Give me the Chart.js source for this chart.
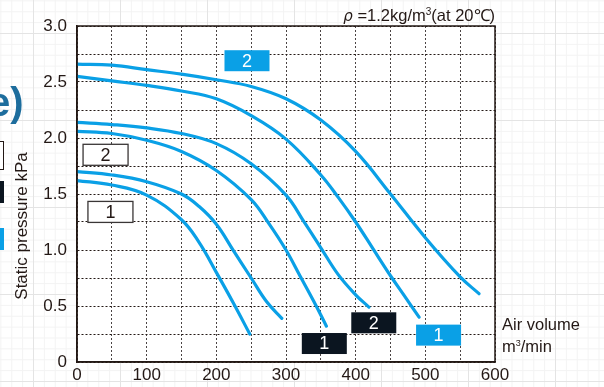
<!DOCTYPE html>
<html>
<head>
<meta charset="utf-8">
<script src="https://cdn.jsdelivr.net/npm/chart.js@4/dist/chart.umd.min.js"></script>
<style>
html, body { margin: 0; padding: 0; }
body {
  width: 604px; height: 387px; overflow: hidden; background-color: #fff;
  background-image:
    linear-gradient(#e4e4e4 1px, transparent 1px),
    linear-gradient(90deg, #e4e4e4 1px, transparent 1px),
    linear-gradient(#f3f3f3 1px, transparent 1px),
    linear-gradient(90deg, #f3f3f3 1px, transparent 1px);
  background-size: 87px 87px, 87px 87px, 10.875px 10.875px, 10.875px 10.875px;
  background-position: 33px 33px;
  font-family: "Liberation Sans", Arial, sans-serif;
  color: #231815;
}
#wrap { position: relative; width: 604px; height: 387px; }
canvas { position: absolute; left: 0; top: 0; }
.txt { position: absolute; white-space: nowrap; }
#density { right: 109px; top: 3px; font-size: 16.5px; }
#density i { font-family: "DejaVu Sans", sans-serif; font-size: 15px; }
#density sup { font-size: 10px; vertical-align: 6px; }
#ytitle { left: 22px; top: 226px; font-size: 17px; transform: translate(-50%, -50%) rotate(-90deg); }
#xtitle { left: 502px; top: 315px; font-size: 16.5px; line-height: 19px; }
#xtitle sup { font-size: 9px; vertical-align: 6px; }
#paren { left: -12px; top: 80px; font-size: 40px; font-weight: bold; color: #1d6d9d; }
.edge { position: absolute; left: 0; width: 4px; }
</style>
</head>
<body>
<div id="wrap">
  <canvas id="myChart" width="604" height="387"></canvas>
  <div class="txt" id="paren">e)</div>
  <div class="edge" style="top:141px;height:27px;border:1.5px solid #231815;border-left:none;background:#fff;width:3px;"></div>
  <div class="edge" style="top:181px;height:22px;background:#0b1520;"></div>
  <div class="edge" style="top:228px;height:22px;background:#0aa0e6;"></div>
  <div class="txt" id="density"><i>ρ</i> =1.2kg/m<sup>3</sup>(at 20℃)</div>
  <div class="txt" id="ytitle">Static pressure kPa</div>
  <div class="txt" id="xtitle">Air volume<br>m<sup>3</sup>/min</div>
</div>
<script>
// air volume (m3/min) and static pressure (kPa) for each curve
const volA = [0, 50, 100, 150, 175, 200, 225, 248];
const pressA = [1.62, 1.58, 1.49, 1.27, 1.07, 0.80, 0.52, 0.25];

const volB = [0, 50, 100, 150, 175, 200, 225, 250, 272, 294];
const pressB = [1.70, 1.67, 1.61, 1.50, 1.39, 1.23, 0.99, 0.75, 0.54, 0.39];

const volC = [0, 50, 100, 150, 200, 250, 275, 300, 320, 340, 358];
const pressC = [2.06, 2.04, 1.98, 1.88, 1.71, 1.45, 1.24, 1.00, 0.77, 0.54, 0.32];

const volD = [0, 50, 100, 150, 200, 250, 300, 325, 350, 375, 400, 419];
const pressD = [2.14, 2.12, 2.09, 2.04, 1.95, 1.77, 1.49, 1.26, 1.02, 0.78, 0.60, 0.49];

const volE = [0, 50, 100, 150, 200, 250, 300, 350, 375, 400, 425, 450, 470, 491];
const pressE = [2.55, 2.51, 2.47, 2.42, 2.35, 2.20, 1.99, 1.67, 1.47, 1.25, 1.01, 0.77, 0.59, 0.40];

const volF = [0, 50, 100, 150, 200, 250, 300, 350, 400, 450, 500, 550, 577];
const pressF = [2.66, 2.65, 2.61, 2.57, 2.52, 2.46, 2.35, 2.16, 1.88, 1.50, 1.11, 0.76, 0.61];

// boxed labels on the plot (placed in data units)
const boxText = ['2', '2', '1', '2', '1', '1'];
const boxKind = ['blue', 'white', 'white', 'black', 'black', 'blue'];
const boxVolume = [244, 41, 48, 426, 355, 519];
const boxPressure = [2.69, 1.85, 1.34, 0.35, 0.165, 0.24];

const lineColor = '#0aa0e6';
const inkColor = '#231815';
const boxFill = { blue: '#0aa0e6', black: '#0b1520', white: '#ffffff' };

function toPoints(xs, ys) {
    return xs.map((v, i) => ({ x: v, y: ys[i] }));
}

const curves = [[volA, pressA], [volB, pressB], [volC, pressC], [volD, pressD], [volE, pressE], [volF, pressF]];

const areaPlugin = {
    id: 'area',
    beforeDraw(chart) {
        const a = chart.chartArea;
        const ctx = chart.ctx;
        ctx.save();
        ctx.fillStyle = '#fff';
        ctx.fillRect(a.left, a.top, a.right - a.left, a.bottom - a.top);
        ctx.restore();
    },
    afterDatasetsDraw(chart) {
        const a = chart.chartArea;
        const ctx = chart.ctx;
        const x = chart.scales.x;
        const y = chart.scales.y;
        ctx.save();
        ctx.strokeStyle = inkColor;
        ctx.lineWidth = 1.5;
        ctx.strokeRect(a.left, a.top, a.right - a.left, a.bottom - a.top);

        ctx.font = '18px "Liberation Sans", Arial, sans-serif';
        ctx.textAlign = 'center';
        ctx.textBaseline = 'middle';
        boxText.forEach((t, i) => {
            const cx = x.getPixelForValue(boxVolume[i]);
            const cy = y.getPixelForValue(boxPressure[i]);
            const w = 45, h = 21;
            ctx.fillStyle = boxFill[boxKind[i]];
            ctx.fillRect(cx - w / 2, cy - h / 2, w, h);
            if (boxKind[i] === 'white') {
                ctx.lineWidth = 1.3;
                ctx.strokeStyle = '#3a3636';
                ctx.strokeRect(cx - w / 2, cy - h / 2, w, h);
                ctx.fillStyle = inkColor;
            } else {
                ctx.fillStyle = '#fff';
            }
            ctx.fillText(t, cx, cy + 1);
        });
        ctx.restore();
    }
};

const ctx = document.getElementById('myChart').getContext('2d');

const myChart = new Chart(ctx, {
    type: 'line',
    data: {
        datasets: curves.map(c => ({
            data: toPoints(c[0], c[1]),
            borderColor: lineColor,
            borderWidth: 3.2,
            pointRadius: 0,
            fill: false,
            tension: 0.4,
            borderCapStyle: 'round'
        }))
    },
    options: {
        responsive: false,
        animation: false,
        layout: { padding: { top: 26, right: 109, left: 0, bottom: 0 } },
        plugins: { legend: { display: false }, tooltip: { enabled: false } },
        scales: {
            x: {
                type: 'linear',
                min: 0,
                max: 600,
                afterFit(scale) { scale.height = 25; },
                ticks: {
                    stepSize: 50,
                    padding: 3,
                    color: inkColor,
                    font: { size: 17, family: '"Liberation Sans", Arial, sans-serif' },
                    maxRotation: 0,
                    autoSkip: false,
                    callback: v => (v % 100 === 0 ? String(v) : '')
                },
                grid: { color: '#4a4444', lineWidth: 1, drawTicks: false },
                border: { display: true, color: inkColor, width: 1.5, dash: [2, 2] }
            },
            y: {
                min: 0,
                max: 3,
                afterFit(scale) { scale.width = 77; },
                ticks: {
                    stepSize: 0.25,
                    padding: 10,
                    color: inkColor,
                    font: { size: 17, family: '"Liberation Sans", Arial, sans-serif' },
                    autoSkip: false,
                    callback: v => (Math.abs(v % 0.5) < 1e-9 ? (v === 0 ? '0' : v.toFixed(1)) : '')
                },
                grid: { color: inkColor, lineWidth: 1, drawTicks: false },
                border: { display: true, color: inkColor, width: 1.5, dash: [2, 2] }
            }
        }
    },
    plugins: [areaPlugin]
});
</script>
</body>
</html>
